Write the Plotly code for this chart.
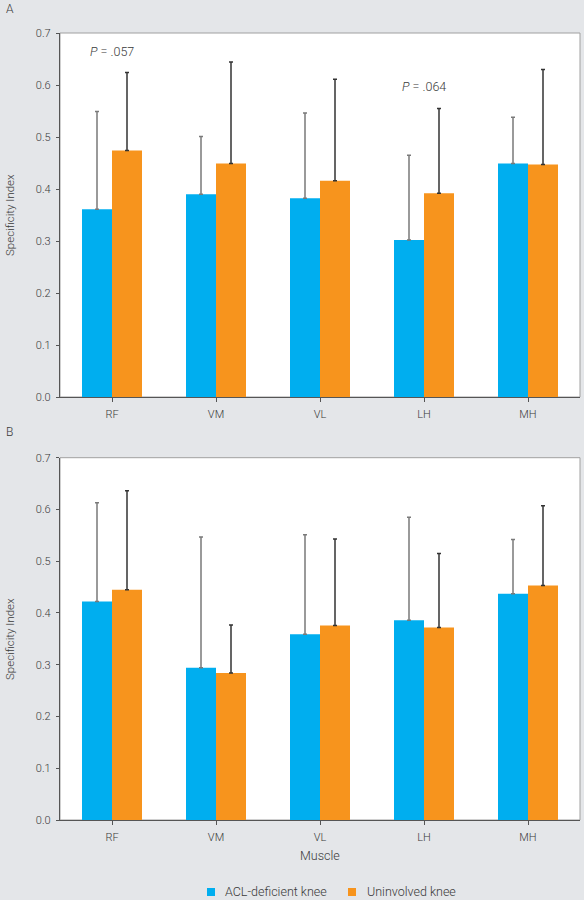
import plotly.graph_objects as go

muscles = ["RF", "VM", "VL", "LH", "MH"]

# Panel A
a_acl = [0.361, 0.390, 0.382, 0.302, 0.449]
a_acl_upper = [0.549, 0.501, 0.546, 0.465, 0.538]
a_uninv = [0.474, 0.449, 0.416, 0.392, 0.447]
a_uninv_upper = [0.624, 0.644, 0.611, 0.555, 0.630]

# Panel B
b_acl = [0.422, 0.294, 0.359, 0.386, 0.437]
b_acl_upper = [0.613, 0.547, 0.551, 0.585, 0.542]
b_uninv = [0.445, 0.284, 0.376, 0.372, 0.453]
b_uninv_upper = [0.636, 0.377, 0.543, 0.515, 0.607]

yticks = [0.0, 0.1, 0.2, 0.3, 0.4, 0.5, 0.6, 0.7]
series_names = ["ACL-deficient knee", "Uninvolved knee"]

BLUE = "#00aeef"
ORANGE = "#f7941d"
BG = "#e4e6e9"
FONT = "Roboto, Liberation Sans, sans-serif"
TXT = "#3a3a3a"
WT = 300

W, H = 584, 900
L, R, T, B = 60, 4, 33, 80
plot_h = H - T - B
plot_w = W - L - R


def py(pix):
    return (H - B - pix) / plot_h


def px(pix):
    return (pix - L) / plot_w


def f(size):
    return dict(family=FONT, size=size, color=TXT, weight=WT)


fig = go.Figure()


def add_panel(vals1, up1, vals2, up2, xa, ya):
    for vals, up, col, ecol, name in [
        (vals1, up1, BLUE, "#7a7a7a", series_names[0]),
        (vals2, up2, ORANGE, "#333333", series_names[1]),
    ]:
        fig.add_trace(go.Bar(
            x=muscles, y=vals, name=name, marker=dict(color=col, line=dict(width=0)),
            xaxis=xa, yaxis=ya, showlegend=False,
            error_y=dict(type="data", symmetric=False,
                         array=[u - v for u, v in zip(up, vals)],
                         arrayminus=[0] * len(vals),
                         color=ecol, thickness=1.5, width=2),
        ))


add_panel(a_acl, a_acl_upper, a_uninv, a_uninv_upper, "x", "y")
add_panel(b_acl, b_acl_upper, b_uninv, b_uninv_upper, "x2", "y2")

dom_a = [py(397), py(33)]
dom_b = [py(820), py(457.7)]

xcommon = dict(showline=True, linecolor="#555555", linewidth=1.2, ticks="outside",
               ticklen=4, tickcolor="#555555", tickfont=f(11), ticklabelstandoff=3,
               showgrid=False, zeroline=False, domain=[0, 1], fixedrange=True)
ycommon = dict(showline=True, linecolor="#555555", linewidth=1.2, ticks="outside",
               ticklen=3, tickcolor="#555555", range=[0, 0.7], tickvals=yticks,
               tickformat=".1f", tickfont=f(11), ticklabelstandoff=3,
               showgrid=False, zeroline=False, fixedrange=True)

fig.update_layout(
    width=W, height=H,
    margin=dict(l=L, r=R, t=T, b=B),
    paper_bgcolor=BG, plot_bgcolor="white",
    barmode="group", bargap=0.423, bargroupgap=0,
    xaxis=dict(xcommon, anchor="y"),
    yaxis=dict(ycommon, domain=dom_a, anchor="x"),
    xaxis2=dict(xcommon, anchor="y2"),
    yaxis2=dict(ycommon, domain=dom_b, anchor="x2"),
    showlegend=False,
    font=dict(family=FONT),
)

# light borders on top/right of plot areas
for d in (dom_a, dom_b):
    fig.add_shape(type="rect", xref="paper", yref="paper", x0=0, x1=1, y0=d[0], y1=d[1],
                  line=dict(color="#a0a0a0", width=1), fillcolor="rgba(0,0,0,0)", layer="below")

ann = []
# panel letters
ann.append(dict(text="A", xref="paper", yref="paper", x=px(4), y=py(9), xanchor="left",
                yanchor="middle", showarrow=False, font=f(12)))
ann.append(dict(text="B", xref="paper", yref="paper", x=px(4), y=py(432), xanchor="left",
                yanchor="middle", showarrow=False, font=f(12)))
# y titles
for yc in (215, 639):
    ann.append(dict(text="Specificity Index", xref="paper", yref="paper", x=px(10), y=py(yc),
                    textangle=-90, showarrow=False, xanchor="center", yanchor="middle",
                    font=f(11.5)))
# x title
ann.append(dict(text="Muscle", xref="paper", yref="paper", x=px(320), y=py(855),
                showarrow=False, xanchor="center", yanchor="middle", font=f(12.5)))
# P values
ann.append(dict(text="<i>P</i> = .057", xref="x", yref="y", x="RF", y=0.665, showarrow=False,
                xanchor="center", yanchor="middle", font=f(12.5)))
ann.append(dict(text="<i>P</i> = .064", xref="x", yref="y", x="LH", y=0.597, showarrow=False,
                xanchor="center", yanchor="middle", font=f(12.5)))
# manual legend
for (sx, tx, col, name) in [(207, 223, BLUE, series_names[0]), (348, 365, ORANGE, series_names[1])]:
    fig.add_shape(type="rect", xref="paper", yref="paper", x0=px(sx), x1=px(sx + 8),
                  y0=py(896), y1=py(888), fillcolor=col, line=dict(width=0))
    ann.append(dict(text=name, xref="paper", yref="paper", x=px(tx), y=py(891.5), showarrow=False,
                    xanchor="left", yanchor="middle", font=f(12.5)))

fig.update_layout(annotations=ann)
fig.write_html("out.html", config={"displayModeBar": False},
               post_script="document.body.style.margin='0';document.body.style.padding='0';")
